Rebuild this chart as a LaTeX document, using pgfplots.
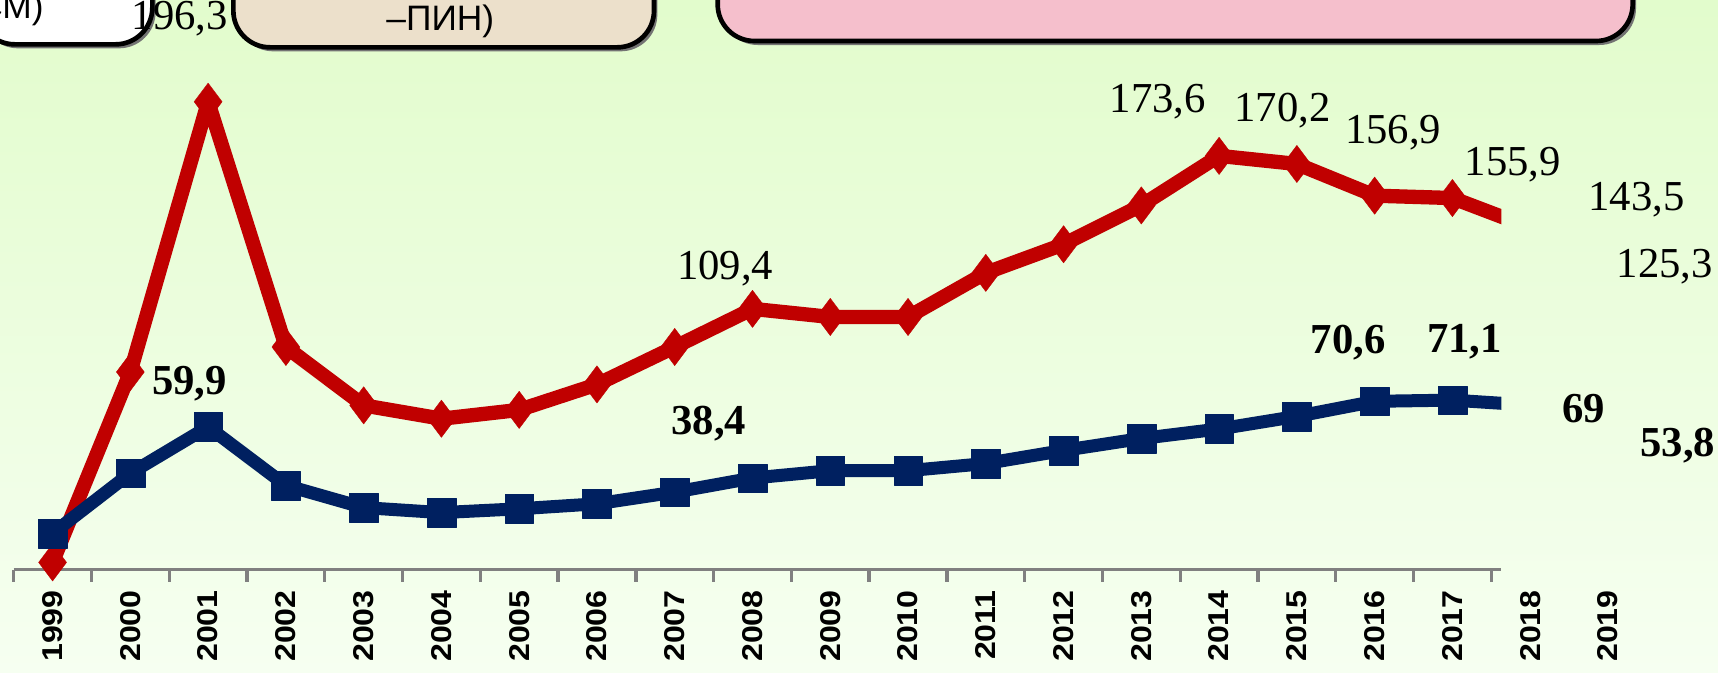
\documentclass[border=0pt]{standalone}
\usepackage{fontspec}
\setmainfont{Liberation Serif}
\setsansfont{Liberation Sans}
\usepackage{pgfplots}
\pgfplotsset{compat=1.18}
\usepackage{pgfplotstable}
\definecolor{bgtop}{RGB}{226,252,204}
\definecolor{bgbot}{RGB}{246,255,241}
\definecolor{redl}{RGB}{192,0,0}
\definecolor{bluel}{RGB}{0,32,96}
\definecolor{axgray}{RGB}{128,128,128}
\definecolor{beigeb}{RGB}{236,224,203}
\definecolor{pinkb}{RGB}{245,191,204}

% index 0 = 1999 ... 20 = 2019
\pgfplotstableread{
x y
0 3.0
1 82.9
2 196.3
3 93.4
4 68.9
5 63.3
6 67.0
7 77.7
8 93.4
9 109.4
10 106.0
11 106.0
12 124.5
13 136.5
14 152.8
15 173.6
16 170.2
17 156.9
18 155.9
19 143.5
20 125.3
}\redtab

\pgfplotstableread{
x y
0 15.2
1 40.4
2 59.9
3 35.3
4 26.0
5 23.9
6 25.5
7 27.6
8 32.5
9 38.4
10 41.5
11 41.5
12 44.5
13 50.0
14 55.0
15 59.0
16 64.3
17 70.6
18 71.1
19 69.0
20 53.8
}\bluetab

\pgfplotstableread{
x y lab dx dy
2 196.3 196,3 -8.5 24.8
9 109.4 109,4 -8.2 12.0
15 173.6 173,6 -18.4 16.4
16 170.2 170,2 -4.3 15.9
17 156.9 156,9 5.6 18.8
18 155.9 155,9 18.1 10.0
19 143.5 143,5 31.9 8.3
20 125.3 125,3 17.1 1.3
}\redlab

\pgfplotstableread{
x y lab dx dy
2 59.9 59,9 -5.6 12.9
9 38.4 38,4 -13.1 16.4
17 70.6 70,6 -7.9 17.7
18 71.1 71,1 3.6 17.4
19 69.0 69 16.1 -0.9
20 53.8 53,8 21.0 -1.2
}\bluelab

\begin{document}
\begin{tikzpicture}
\useasboundingbox (0,0) rectangle (515.4pt,201.6pt);
\shade[top color=bgtop, bottom color=bgbot] (0,0) rectangle (515.4pt,201.6pt);
\begin{scope}
\clip (0,0) rectangle (515.4pt,201.6pt);
% shadows
\fill[black!55, rounded corners=11pt] (-5.6pt,187.1pt) rectangle (46.7pt,240pt);
\fill[black!55, rounded corners=11pt] (71.0pt,186.2pt) rectangle (197.2pt,240pt);
\fill[black!55, rounded corners=11pt] (216.3pt,188.1pt) rectangle (490.8pt,240pt);
% boxes
\draw[black, line width=1.4pt, fill=white, rounded corners=11pt] (-6.6pt,188.3pt) rectangle (45.7pt,240pt);
\draw[black, line width=1.4pt, fill=beigeb, rounded corners=11pt] (70.0pt,187.4pt) rectangle (196.2pt,240pt);
\draw[black, line width=1.4pt, fill=pinkb, rounded corners=11pt] (215.3pt,189.3pt) rectangle (489.8pt,240pt);
\node[anchor=base east, inner sep=0pt, font=\sffamily\fontsize{10.6}{12}\selectfont] at (13.3pt,196.0pt) {СМ)};
\node[anchor=base, inner sep=0pt, font=\sffamily\fontsize{10.6}{12}\selectfont] at (132.1pt,192.6pt) {–ПИН)};
\end{scope}

% axis decoration
\begin{axis}[
  at={(4.11pt,30.73pt)}, anchor=south west,
  x=23.33pt, y=0.7149pt,
  xmin=-0.5, xmax=20.5, ymin=0, ymax=200,
  axis line style={draw=none},
  ytick=\empty,
  xtick={-0.5,0.5,...,18.5}, xticklabels={},
  xtick pos=lower, xtick align=outside,
  major tick length=3.6pt,
  tick style={draw=axgray, line width=1pt},
  extra x ticks={0,1,...,20},
  extra x tick labels={1999,2000,2001,2002,2003,2004,2005,2006,2007,2008,2009,2010,2011,2012,2013,2014,2015,2016,2017,2018,2019},
  extra x tick style={major tick length=0pt, tick style={draw=none}},
  xticklabel style={font=\sffamily\bfseries\fontsize{8.6}{9}\selectfont, rotate=90, anchor=east, inner sep=0pt, xscale=1.12},
  xticklabel shift=6.0pt,
  clip=false,
]
\draw[axgray, line width=1pt] (axis cs:-0.5,0) -- (axis cs:18.63,0);
\end{axis}

% lines (clipped at the right)
\begin{axis}[
  at={(4.11pt,20.01pt)}, anchor=south west,
  x=23.33pt, y=0.7149pt,
  xmin=-0.5, xmax=18.63, ymin=-15, ymax=210,
  hide axis, clip=true, clip marker paths=true,
]
\addplot[redl, line width=4.3pt, line join=round, mark=diamond*, mark size=5.6pt,
  mark options={line width=0.1pt, solid, fill=redl, draw=redl}] table[x=x,y=y] {\redtab};
\addplot[bluel, line width=3.9pt, line join=round, mark=square*, mark size=4.3pt,
  mark options={line width=0.1pt, solid, fill=bluel, draw=bluel}] table[x=x,y=y] {\bluetab};
\end{axis}

% data labels
\begin{axis}[
  at={(4.11pt,30.73pt)}, anchor=south west,
  x=23.33pt, y=0.7149pt,
  xmin=-0.5, xmax=20.5, ymin=0, ymax=200,
  hide axis, clip=false,
]
\addplot[draw=none, nodes near coords, point meta=explicit symbolic,
  visualization depends on={\thisrow{dx} \as \dx},
  visualization depends on={\thisrow{dy} \as \dy},
  every node near coord/.append style={anchor=center, inner sep=0pt, text=black,
     xshift=\dx*1pt, yshift=\dy*1pt, font=\fontsize{12.8}{14}\selectfont}]
  table[x=x, y=y, meta=lab] {\redlab};
\addplot[draw=none, nodes near coords, point meta=explicit symbolic,
  visualization depends on={\thisrow{dx} \as \dx},
  visualization depends on={\thisrow{dy} \as \dy},
  every node near coord/.append style={anchor=center, inner sep=0pt, text=black,
     xshift=\dx*1pt, yshift=\dy*1pt, font=\bfseries\fontsize{12.8}{14}\selectfont}]
  table[x=x, y=y, meta=lab] {\bluelab};
\end{axis}
\end{tikzpicture}
\end{document}
